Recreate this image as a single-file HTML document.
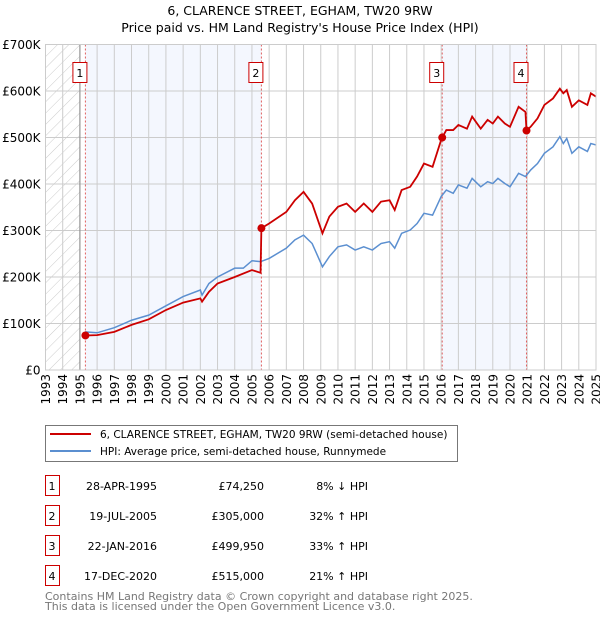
<!DOCTYPE html>
<html><head><meta charset="utf-8"><style>
body{margin:0;background:#fff;font-family:"DejaVu Sans","Liberation Sans",sans-serif;}
</style></head><body>
<svg width="600" height="620" xmlns="http://www.w3.org/2000/svg" style="font-family:'DejaVu Sans','Liberation Sans',sans-serif">
<defs><pattern id="hatch" width="8" height="8" patternUnits="userSpaceOnUse" patternTransform="rotate(45)"><rect width="8" height="8" fill="#fff"/><line x1="0" y1="0" x2="0" y2="8" stroke="#ccc" stroke-width="1"/></pattern></defs>
<text x="300" y="15" text-anchor="middle" font-size="12.5">6, CLARENCE STREET, EGHAM, TW20 9RW</text>
<text x="300" y="32" text-anchor="middle" font-size="12.5">Price paid vs. HM Land Registry's House Price Index (HPI)</text>
<g id="plot"></g>
<g>
<rect x="45.5" y="425.5" width="412" height="36" fill="#fff" stroke="#777"/>
<line x1="50" y1="434" x2="91" y2="434" stroke="#cc0000" stroke-width="2"/>
<text x="100" y="438" font-size="10.5">6, CLARENCE STREET, EGHAM, TW20 9RW (semi-detached house)</text>
<line x1="50" y1="451" x2="91" y2="451" stroke="#5b8fd0" stroke-width="2"/>
<text x="100" y="455" font-size="10.5">HPI: Average price, semi-detached house, Runnymede</text>
</g>
<g id="table" font-size="11"></g>
<text x="45" y="600" font-size="11" fill="#777">Contains HM Land Registry data © Crown copyright and database right 2025.</text>
<text x="45" y="610" font-size="11" fill="#777">This data is licensed under the Open Government Licence v3.0.</text>
</svg>
<script>
const hpiYears=[1995.3,1996,1997,1998,1999,2000,2001,2002,2002.1,2002.5,2003,2004,2004.5,2005,2005.5,2006,2007,2007.5,2008,2008.5,2009.1,2009.5,2010,2010.5,2011,2011.5,2012,2012.5,2013,2013.3,2013.7,2014.2,2014.6,2015,2015.5,2016,2016.3,2016.7,2017,2017.5,2017.8,2018.3,2018.7,2019,2019.3,2019.7,2020,2020.5,2020.9,2021.2,2021.6,2022,2022.5,2022.9,2023.1,2023.3,2023.6,2024,2024.5,2024.7,2025];
const hpiValues=[82,80,91,107,118,138,158,172,161,186,200,219,219,235,233,240,262,280,290,272,222,244,265,269,258,265,258,272,276,262,294,301,315,337,333,373,387,380,398,391,412,394,405,401,412,401,394,423,416,430,444,466,480,502,487,498,466,480,470,487,484];
const redYears=[1995.32,1996,1997,1998,1999,2000,2001,2002,2002.1,2002.5,2003,2004,2005,2005.5,2005.55,2006,2007,2007.5,2008,2008.5,2009.1,2009.5,2010,2010.5,2011,2011.5,2012,2012.5,2013,2013.3,2013.7,2014.2,2014.6,2015,2015.5,2016,2016.06,2016.3,2016.7,2017,2017.5,2017.8,2018.3,2018.7,2019,2019.3,2019.7,2020,2020.5,2020.9,2020.96,2021.2,2021.6,2022,2022.5,2022.9,2023.1,2023.3,2023.6,2024,2024.5,2024.7,2025];
const redValues=[74.25,75,82,97,109,129,145,154,147,168,186,200,215,209,305,315,340,365,383,358,294,330,351,358,340,358,340,362,365,344,387,394,416,444,437,495,499.95,516,516,527,519,545,519,538,530,545,530,523,566,555,515,523,541,570,584,605,595,602,566,580,570,595,588];
const saleLabels=["1","2","3","4"];
const saleYears=[1995.32,2005.55,2016.06,2020.96];
const saleValues=[74.25,305,499.95,515];
const saleDates=["28-APR-1995","19-JUL-2005","22-JAN-2016","17-DEC-2020"];
const salePrices=["£74,250","£305,000","£499,950","£515,000"];
const saleHpi=["8% ↓ HPI","32% ↑ HPI","33% ↑ HPI","21% ↑ HPI"];
const yTicks=[0,100,200,300,400,500,600,700];
const yTickLabels=["£0","£100K","£200K","£300K","£400K","£500K","£600K","£700K"];

const X0=45.5,X1=596,Y0=370,Y1=44.5,ns="http://www.w3.org/2000/svg";
const xs=y=>X0+(y-1993)/(2025-1993)*(X1-X0);
const ys=v=>Y0-v/700*(Y0-Y1);
const plot=document.getElementById('plot');
function mk(tag,attrs,parent){const e=document.createElementNS(ns,tag);for(const k in attrs)e.setAttribute(k,attrs[k]);(parent||plot).appendChild(e);return e;}
let r=mk('rect',{x:xs(saleYears[0]),y:Y1,width:xs(saleYears[1])-xs(saleYears[0]),height:Y0-Y1,fill:'#f4f7fe'});

r=mk('rect',{x:xs(saleYears[2]),y:Y1,width:xs(saleYears[3])-xs(saleYears[2]),height:Y0-Y1,fill:'#f4f7fe'});

r=mk('rect',{x:X0,y:Y1,width:xs(1995)-X0,height:Y0-Y1,fill:'url(#hatch)'});

for(let yr=1993;yr<=2025;yr++){
 const l=mk('line',{x1:xs(yr),x2:xs(yr),y1:Y1,y2:Y0,stroke:'#ccc','stroke-width':1});
 
 const t=mk('text',{x:0,y:0,transform:`translate(${xs(yr)+4.5},${374}) rotate(-90)`,'text-anchor':'end','font-size':12});
 t.textContent=yr;
 
}
yTicks.forEach((v,i)=>{
 const l=mk('line',{x1:X0,x2:X1,y1:ys(v),y2:ys(v),stroke:'#ccc','stroke-width':1});
 
 const t=mk('text',{x:X0-5,y:ys(v)+4.5,'text-anchor':'end','font-size':12});
 t.textContent=yTickLabels[i];
 
});
let v=mk('line',{x1:xs(1995),x2:xs(1995),y1:Y1,y2:Y0,stroke:'#888','stroke-width':1});

saleYears.forEach((y,i)=>{
 const l=mk('line',{x1:xs(y),x2:xs(y),y1:Y1,y2:Y0,stroke:'#e06060','stroke-width':1,'stroke-dasharray':'2,2'});
 
});
const hp=mk('polyline',{points:hpiYears.map((y,i)=>xs(y)+','+ys(hpiValues[i])).join(' '),fill:'none',stroke:'#5b8fd0','stroke-width':1.5});

const rp=mk('polyline',{points:redYears.map((y,i)=>xs(y)+','+ys(redValues[i])).join(' '),fill:'none',stroke:'#cc0000','stroke-width':1.8});

saleYears.forEach((y,i)=>{
 const c=mk('circle',{cx:xs(y),cy:ys(saleValues[i]),r:4,fill:'#cc0000'});
 
 const b=mk('rect',{x:xs(y)-12.5,y:62.5,width:14,height:20,fill:'#fff',stroke:'#cc0000'});
 
 const t=mk('text',{x:xs(y)-5.5,y:77,'text-anchor':'middle','font-size':11});
 t.textContent=saleLabels[i];
 
});
const fr=mk('rect',{x:X0,y:Y1,width:X1-X0,height:Y0-Y1,fill:'none',stroke:'#ccc'});

const tb=document.getElementById('table');
saleLabels.forEach((lab,i)=>{
 const y0=476+i*30;
 const b=mk('rect',{x:45.5,y:y0-0.5,width:14,height:20,fill:'#fff',stroke:'#cc0000'},tb);
 
 const cells=[[52,'middle',lab],[157,'end',saleDates[i]],[264,'end',salePrices[i]],[368,'end',saleHpi[i]]];
 cells.forEach(c=>{const t=mk('text',{x:c[0],y:y0+14,'text-anchor':c[1],'font-size':11},tb);t.textContent=c[2];
  });
});
</script>
</body></html>
